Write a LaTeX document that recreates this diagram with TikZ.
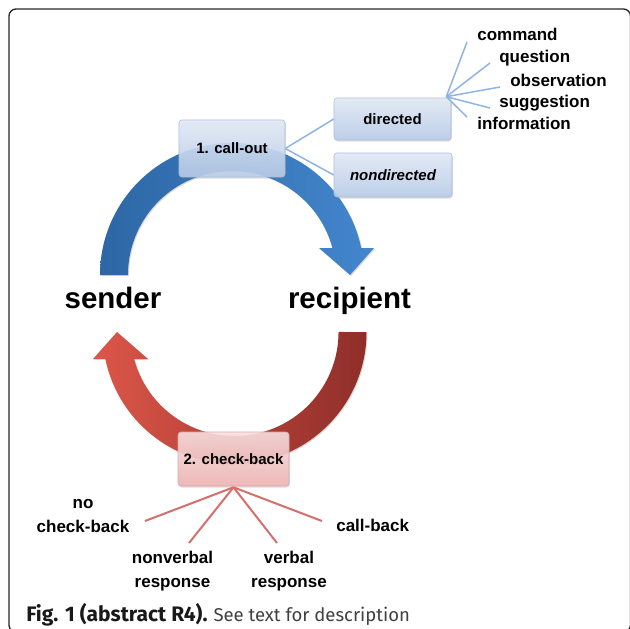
\documentclass[tikz,border=0pt]{standalone}
\usepackage{fontspec}
\setmainfont{Liberation Sans}
\newfontfamily\capfont{Fira Sans}
\usepackage{tikz}
\usetikzlibrary{shadows,positioning}
\definecolor{boxblueT}{HTML}{E4ECF8}
\definecolor{boxblueB}{HTML}{B9CDEA}
\definecolor{boxblueline}{HTML}{A9BCD8}
\definecolor{boxredT}{HTML}{FBE3E3}
\definecolor{boxredB}{HTML}{F0B3B3}
\definecolor{boxredline}{HTML}{DBA6A6}
\definecolor{lineblue}{HTML}{8FB4E2}
\definecolor{linered}{HTML}{D4706B}
\definecolor{blueA}{HTML}{2D67A5}
\definecolor{blueB}{HTML}{4386CD}
\definecolor{redA}{HTML}{DD5649}
\definecolor{redB}{HTML}{8F2E29}
\tikzstyle{box}=[rounded corners=3pt, inner sep=0pt, font=\bfseries\fontsize{15}{18}\selectfont, drop shadow={opacity=0.25, shadow xshift=0.8pt, shadow yshift=-1.5pt}, fill opacity=0.88, text opacity=1]
\tikzstyle{bluebox}=[box, draw=boxblueline, top color=boxblueT, bottom color=boxblueB]
\tikzstyle{redbox}=[box, draw=boxredline, top color=boxredT, bottom color=boxredB]
\tikzstyle{blueline}=[draw=lineblue, line width=1.5pt]
\tikzstyle{redline}=[draw=linered, line width=2pt]
\tikzstyle{item}=[anchor=base west, inner sep=0pt, font=\bfseries\fontsize{17}{20}\selectfont]
\tikzstyle{lab}=[inner sep=0pt, align=center, font=\bfseries\fontsize{17}{23.5}\selectfont]
\tikzstyle{big}=[anchor=base, inner sep=0pt, font=\bfseries\fontsize{29.5}{34}\selectfont]
\tikzstyle{band}=[drop shadow={opacity=0.3, shadow xshift=1pt, shadow yshift=-1pt}]

\begin{document}
\begin{tikzpicture}[
    x=1pt, y=-1pt,
    semithick
    ]
    \useasboundingbox (0,0) rectangle (630,629);
    \draw[rounded corners=7pt, line width=1.3pt, color=black!85] (9,9) rectangle (630.5,632);

    % arrows of the loop
    \shade[band, left color=blueA, right color=blueB]
    (232,275) ++(180:132) arc[start angle=180, end angle=348.2, radius=132]
    -- (374,248) -- (350,275) -- (319,248) -- (332.4,248)
    arc[start angle=344.95, end angle=180, radius=104] -- cycle;
    \shade[band, left color=redA, right color=redB]
    (234.5,332) ++(0:132) arc[start angle=0, end angle=168.2, radius=132]
    -- (93,359) -- (117,332) -- (148,359) -- (134.1,359)
    arc[start angle=164.95, end angle=0, radius=104] -- cycle;

    \node[big] (snd) at (113,308) {sender};
    \node[big] (rcp) at (349.5,308) {recipient};

    % boxes
    \node[bluebox, minimum width=106pt, minimum height=57pt] (callout) at (232,148.5) {1. call-out};
    \node[bluebox, minimum width=117pt, minimum height=42pt] (dir) at (392.5,119) {directed};
    \node[bluebox, minimum width=118pt, minimum height=44pt] (nondir) at (393,175) {\itshape nondirected};
    \node[redbox, minimum width=111pt, minimum height=54pt] (chk) at (233.5,459) {2. check-back};

    \path[blueline]
    (callout.east) edge (dir.west)
    (callout.east) edge (nondir.west);

    % kinds of call-out
    \node[item] (cmd) at (477,40) {command};
    \node[item] (qst) at (499,63) {question};
    \node[item] (obs) at (510,86) {observation};
    \node[item] (sug) at (499,107) {suggestion};
    \node[item] (inf) at (477,129) {information};
    \coordinate (e1) at (467,42);
    \coordinate (e2) at (490,63);
    \coordinate (e3) at (500,87);
    \coordinate (e4) at (490,108);
    \coordinate (e5) at (467,117);
    \foreach \e in {e1,e2,e3,e4,e5}
        \draw[blueline] ([xshift=-5pt,yshift=1pt]dir.north east) -- (\e);

    % kinds of check-back
    \node[lab, anchor=base] (nocb) at (83,532) {no\\check-back};
    \node[lab, anchor=base] (nonv) at (172.5,587) {nonverbal\\response};
    \node[lab, anchor=base] (verb) at (289,587) {verbal\\response};
    \node[lab, anchor=base west] (clb) at (336,531) {call-back};
    \coordinate (f1) at (145,521);
    \coordinate (f2) at (189,543);
    \coordinate (f3) at (277,543);
    \coordinate (f4) at (322,521);
    \foreach \f in {f1,f2,f3,f4}
        \draw[redline] ([yshift=-1pt]chk.south) -- (\f);

    \node[anchor=base west, inner sep=0pt, font=\capfont] (cap) at (26,621)
    {{\fontsize{21}{24}\selectfont\bfseries\color{black!90}Fig. 1 (abstract R4).}\hspace{6pt}{\fontsize{18.5}{22}\selectfont\color{black!75}See text for description}};
\end{tikzpicture}
\end{document}
